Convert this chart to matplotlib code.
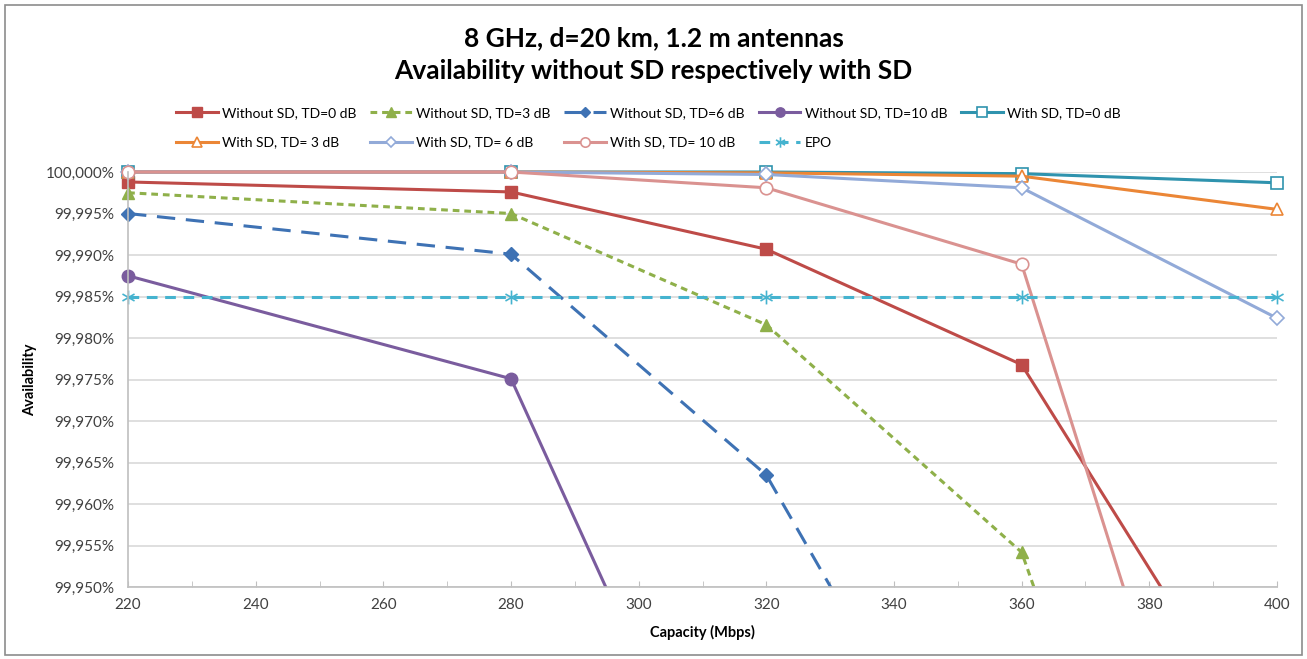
import matplotlib
matplotlib.use('Agg')
import matplotlib.pyplot as plt
from matplotlib.path import Path
from matplotlib.patches import Rectangle
from matplotlib.ticker import MultipleLocator, FuncFormatter

plt.rcParams['font.family'] = ['Lato', 'DejaVu Sans']

capacity = [220, 280, 320, 360, 400]

# availability in percent
no_sd_td0 = [99.9988, 99.9976, 99.9907, 99.9768, 99.9277]
no_sd_td3 = [99.9975, 99.9950, 99.9816, 99.9542, 99.8670]
no_sd_td6 = [99.9950, 99.9901, 99.9635, 99.9100, 99.8500]
no_sd_td10 = [99.9875, 99.9751, 99.9075, 99.8500, 99.7800]
sd_td0 = [100.0000, 100.0000, 100.0000, 99.9998, 99.9987]
sd_td3 = [100.0000, 100.0000, 99.9999, 99.9995, 99.9955]
sd_td6 = [100.0000, 100.0000, 99.9997, 99.9981, 99.9824]
sd_td10 = [100.0000, 100.0000, 99.9981, 99.9889, 99.8914]
epo = [99.985, 99.985, 99.985, 99.985, 99.985]

labels = ['Without SD, TD=0 dB', 'Without SD, TD=3 dB', 'Without SD, TD=6 dB',
          'Without SD, TD=10 dB', 'With SD, TD=0 dB', 'With SD, TD= 3 dB',
          'With SD, TD= 6 dB', 'With SD, TD= 10 dB', 'EPO']

# asterisk marker like the spreadsheet one
star = Path([(0, -1), (0, 1), (-0.87, -0.5), (0.87, 0.5), (-0.87, 0.5), (0.87, -0.5)],
            [Path.MOVETO, Path.LINETO, Path.MOVETO, Path.LINETO, Path.MOVETO, Path.LINETO])

fig = plt.figure(figsize=(13.07, 6.59), dpi=100)
ax = fig.add_axes([0.098, 0.109, 0.879, 0.630])

# outer chart frame
fig.patches.append(Rectangle((0.004, 0.006), 0.992, 0.986, transform=fig.transFigure,
                             fill=False, edgecolor='#8c8c8c', linewidth=1.2))

h = []
h += ax.plot(capacity, no_sd_td0, color='#BE4B48', lw=2.2, marker='s', ms=9)
h += ax.plot(capacity, no_sd_td3, color='#8FB04A', lw=2.2, marker='^', ms=9,
             dashes=(2.2, 1.6))
h += ax.plot(capacity, no_sd_td6, color='#3E72B4', lw=2.2, marker='D', ms=7,
             dashes=(6, 3.5))
h += ax.plot(capacity, no_sd_td10, color='#7A5C9E', lw=2.2, marker='o', ms=9)
h += ax.plot(capacity, sd_td0, color='#2F93AE', lw=2.2, marker='s', ms=9,
             mfc='white', mew=1.2)
h += ax.plot(capacity, sd_td3, color='#EB8636', lw=2.2, marker='^', ms=9,
             mfc='white', mew=1.2)
h += ax.plot(capacity, sd_td6, color='#92AAD8', lw=2.2, marker='D', ms=7,
             mfc='white', mew=1.2)
h += ax.plot(capacity, sd_td10, color='#DA9290', lw=2.2, marker='o', ms=9,
             mfc='white', mew=1.2)
h += ax.plot(capacity, epo, color='#45B3CF', lw=2.2, marker=star, ms=10, mew=1.2,
             dashes=(3.5, 2.5))

# clip only at the bottom, so edge markers stay whole
clip = Rectangle((-0.03, 0.0), 1.06, 1.06, transform=ax.transAxes)
for line in h:
    line.set_clip_path(clip)

ax.set_xlim(220, 400)
ax.set_ylim(99.95, 100.0)
ax.xaxis.set_major_locator(MultipleLocator(20))
ax.xaxis.set_minor_locator(MultipleLocator(10))
ax.yaxis.set_major_locator(MultipleLocator(0.005))
ax.yaxis.set_major_formatter(FuncFormatter(lambda v, p: f'{v:.3f}%'.replace('.', ',')))
ax.tick_params(axis='x', which='both', direction='in', length=4, color='#bfbfbf',
               labelsize=11, pad=8, labelcolor='#404040')
ax.tick_params(axis='y', length=0, labelsize=11, pad=10, labelcolor='#404040')
ax.grid(axis='y', color='#d9d9d9', lw=1.2)
ax.set_axisbelow(True)
for s in ['top', 'right']:
    ax.spines[s].set_visible(False)
for s in ['left', 'bottom']:
    ax.spines[s].set_color('#bfbfbf')
    ax.spines[s].set_linewidth(1.2)

ax.set_xlabel('Capacity (Mbps)', fontsize=10.5, fontweight='bold', labelpad=9)
ax.set_ylabel('Availability', fontsize=10.5, fontweight='bold', labelpad=6)

fig.text(0.5, 0.942, '8 GHz, d=20 km, 1.2 m antennas', ha='center', va='center',
         fontsize=19, fontweight='bold')
fig.text(0.5, 0.893, 'Availability without SD respectively with SD', ha='center',
         va='center', fontsize=19, fontweight='bold')

# row-major ordering for a 5-column legend
order = [0, 5, 1, 6, 2, 7, 3, 8, 4]
fig.legend([h[i] for i in order], [labels[i] for i in order], ncol=5,
           loc='center left', bbox_to_anchor=(0.125, 0.806), frameon=False,
           fontsize=10, handlelength=3.0, columnspacing=1.0, handletextpad=0.3,
           labelspacing=1.25, numpoints=1, markerscale=0.75)

fig.savefig('out.png', dpi=100)
